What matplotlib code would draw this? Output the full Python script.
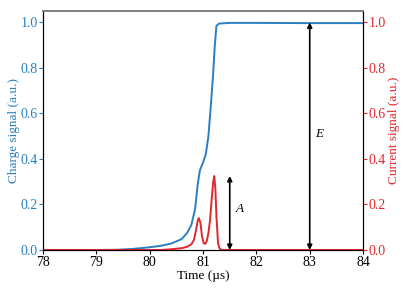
import numpy as np
from matplotlib import pyplot as plt

# charge signal (blue, left axis)
t_charge = [78.0, 79.0, 79.4, 79.7, 80.0, 80.2, 80.4, 80.6, 80.7, 80.78, 80.85,
            80.9, 80.94, 81.0, 81.05, 81.1, 81.15, 81.19, 81.22, 81.25, 81.3,
            81.5, 82.0, 83.0, 84.0]
charge = [0.0, 0.0, 0.001, 0.005, 0.012, 0.018, 0.028, 0.048, 0.075, 0.11, 0.18,
          0.29, 0.35, 0.385, 0.42, 0.5, 0.65, 0.78, 0.9, 0.985, 0.995,
          0.998, 0.998, 0.997, 0.997]

# current signal (red, right axis)
t_current = [78.0, 80.2, 80.4, 80.6, 80.7, 80.78, 80.83, 80.87, 80.9, 80.92,
             80.95, 80.98, 81.01, 81.04, 81.07, 81.1, 81.13, 81.16, 81.19,
             81.21, 81.23, 81.25, 81.28, 81.31, 81.35, 84.0]
current = [0.0, 0.0, 0.003, 0.008, 0.014, 0.025, 0.045, 0.09, 0.13, 0.14,
           0.12, 0.06, 0.03, 0.027, 0.04, 0.075, 0.13, 0.22, 0.30,
           0.325, 0.27, 0.15, 0.03, 0.006, 0.0, 0.0]

# arrow annotations: (x, top, label, label_x, label_y)
amp_arrow = (81.5, 0.325, 'A', 81.6, 0.18)
energy_arrow = (83.0, 1.0, 'E', 83.1, 0.51)

blue = '#2a7fc1'
red = '#e0282e'

plt.rcParams['font.family'] = 'Liberation Serif'
plt.rcParams['mathtext.fontset'] = 'custom'
plt.rcParams['mathtext.it'] = 'Liberation Serif:italic'

fig, ax = plt.subplots(figsize=(4.07, 2.91), dpi=100)
fig.subplots_adjust(left=0.106, right=0.892, top=0.962, bottom=0.141)
ax2 = ax.twinx()

ax.plot(t_charge, charge, color=blue, lw=1.4)
ax2.plot(t_current, current, color=red, lw=1.4)

ax.set_xlim(78, 84)
ax.set_ylim(0, 1.05)
ax2.set_ylim(0, 1.05)
ax.set_xticks([78, 79, 80, 81, 82, 83, 84])
ax.set_yticks(np.arange(0, 1.01, 0.2))
ax2.set_yticks(np.arange(0, 1.01, 0.2))

ax.set_xlabel('Time (µs)', fontsize=9.5, labelpad=1)
ax.set_ylabel('Charge signal (a.u.)', color=blue, fontsize=9.5, labelpad=0.5)
ax2.set_ylabel('Current signal (a.u.)', color=red, fontsize=9.5, labelpad=1.5)

ax.tick_params(axis='x', labelsize=10, length=3, pad=1)
ax.tick_params(axis='y', colors=blue, labelsize=10, length=3, pad=1)
ax2.tick_params(axis='y', colors=red, labelsize=10, length=3, pad=1)

for a in (ax, ax2):
    a.spines['top'].set_color('gray')
    a.spines['top'].set_linewidth(1.2)

for x, top, lab, lx, ly in (amp_arrow, energy_arrow):
    ax2.annotate('', xy=(x, top), xytext=(x, 0),
                 arrowprops=dict(arrowstyle='<|-|>', color='black', lw=1.2,
                                 mutation_scale=7, shrinkA=0, shrinkB=0))
    ax2.text(lx, ly, '$' + lab + '$', fontsize=9.5, ha='left', va='center')

fig.savefig('out.png', dpi=100)
